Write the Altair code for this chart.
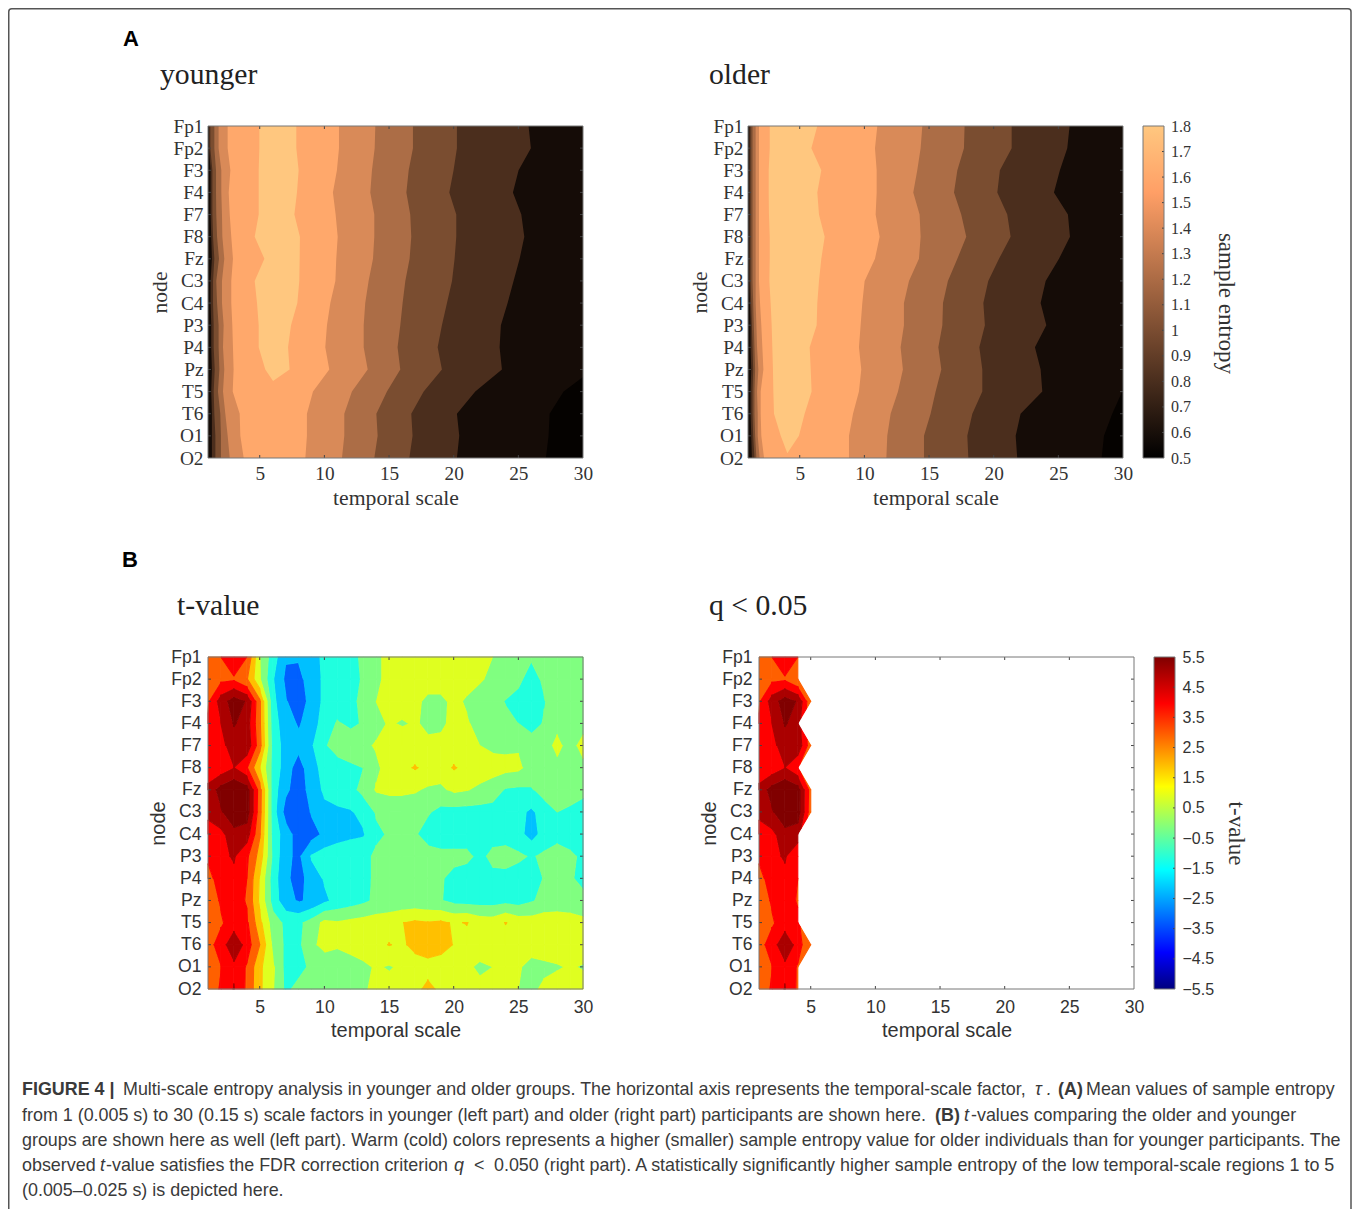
import altair as alt
import pandas as pd
import numpy as np

NODES = ["Fp1","Fp2","F3","F4","F7","F8","Fz","C3","C4","P3","P4","Pz","T5","T6","O1","O2"]
ROWS = list(range(1, 17))
X_TICKS = [5, 10, 15, 20, 25, 30]

# ---- Panel A: x position of each sample-entropy contour per node ----
Y_R18 = [7.83,7.83,8.01,7.88,7.68,8.11,8.09,8.06,7.91,7.42,7.19,7.31,6.03]
Y_L18 = [4.97,4.97,4.92,4.92,4.92,4.61,5.36,4.61,4.79,4.92,4.92,5.43,6.03]
Y_R16 = [11.13,11.13,10.97,10.66,10.87,11.03,10.92,10.85,10.46,10.20,10.07,10.38,9.12,8.65,8.65,8.53]
Y_L16 = [2.52,2.52,2.73,2.60,2.68,2.80,2.93,2.80,2.80,2.88,2.93,2.98,2.91,3.45,3.50,3.76]
Y_R14 = [13.94,13.89,13.68,13.55,13.86,13.86,13.76,13.42,13.16,13.04,13.04,13.35,12.13,11.54,11.54,11.36]
Y_L14 = [1.82,1.82,2.03,2.03,2.08,2.11,2.26,2.08,2.08,2.21,2.16,2.26,2.16,2.34,2.52,2.68]
Y_R12 = [16.85,16.85,16.52,16.34,16.64,16.72,16.59,16.26,16.05,15.87,15.66,15.87,14.84,14.02,14.12,13.86]
Y_L12 = [1.49,1.49,1.62,1.62,1.64,1.70,1.85,1.64,1.70,1.82,1.82,1.88,1.77,1.95,2.0,2.0]
Y_R10 = [20.25,20.25,19.99,19.66,20.2,20.2,20.07,19.87,19.48,19.09,18.76,19.09,17.68,16.72,16.82,16.57]
Y_L10 = [1.18,1.18,1.34,1.34,1.34,1.39,1.49,1.39,1.39,1.44,1.44,1.52,1.44,1.49,1.57,1.57]
Y_R08 = [25.79,25.97,25.02,24.58,25.23,25.46,25.10,24.63,24.17,23.65,23.55,23.73,21.67,20.25,20.43,20.25]
Y_L08 = [1.08,1.08,1.2,1.2,1.2,1.25,1.3,1.2,1.2,1.25,1.25,1.3,1.25,1.3,1.3,1.3]
Y_L05 = [30,28.5,27.42,27.34,27.13]
Y_ROWS05 = [12.34,13,14,15,16]

O_R18 = [6.36,5.90,6.67,6.36,6.49,6.93,6.67,6.49,6.36,6.31,5.77,5.85,5.92,5.38,4.94,4.04]
O_L18 = [2.68,2.68,2.60,2.60,2.62,2.68,2.68,2.65,2.75,2.83,2.88,2.93,2.96,3.01,3.53,4.04]
O_ROWS18 = [1,2,3,4,5,6,7,8,9,10,11,12,13,14,15,15.78]
O_R16 = [11.0,10.82,10.95,10.95,10.87,11.18,10.82,10.02,9.84,9.71,9.58,9.76,9.58,9.12,8.81,8.81]
O_L16 = [1.85,1.85,1.85,1.85,1.85,1.85,1.85,1.85,1.93,2.03,2.11,2.19,1.98,1.98,2.03,2.24]
O_R14 = [14.48,14.35,14.09,13.78,14.27,14.35,14.22,13.45,13.06,13.06,12.80,12.98,12.60,12.03,11.77,11.70]
O_L14 = [1.59,1.59,1.59,1.59,1.59,1.59,1.59,1.59,1.59,1.65,1.7,1.8,1.7,1.75,1.75,1.9]
O_R12 = [17.75,17.70,17.19,16.93,17.49,17.88,17.19,16.46,16.08,16.03,15.72,15.95,15.51,15.12,14.61,14.61]
O_L12 = [1.35,1.35,1.35,1.35,1.35,1.35,1.35,1.35,1.4,1.45,1.5,1.55,1.5,1.5,1.55,1.65]
O_R10 = [21.39,21.39,20.48,20.28,21.05,21.31,20.41,19.58,19.2,19.32,18.89,19.12,19.12,18.35,17.96,18.04]
O_L10 = [1.2,1.2,1.2,1.2,1.2,1.2,1.2,1.2,1.25,1.3,1.35,1.4,1.35,1.35,1.4,1.5]
O_R08 = [25.87,25.69,25.12,24.66,25.74,25.9,25.05,24.02,23.63,24.07,23.19,23.63,23.76,22.08,21.7,21.82]
O_L08 = [1.1,1.1,1.1,1.1,1.1,1.1,1.1,1.1,1.15,1.2,1.2,1.25,1.2,1.2,1.25,1.3]
O_L05 = [30,29.94,29.17,28.53,28.35]
O_ROWS05 = [12.54,13,14,15,16]

A_LEVELS = ["0.5","0.6","0.8","1.0","1.2","1.4","1.6","1.8"]
A_COLORS = ["#050200","#150C07","#4B2E1D","#7A4D30","#AC6D46","#D98A58","#FFA86B","#FFC77F"]

# ---- Panel B: t-value per node (row) and temporal scale 1..30 (column) ----
T_GRID = [
 [3.0,3.5,4.1,3.5,0.5,-1.0,-2.4,-2.4,-2.0,-1.2,-1.0,-0.8,-0.3,0.3,0.8,0.9,0.9,0.9,0.9,0.9,0.9,0.8,0.5,0.2,0.0,-0.4,0.0,0.1,0.1,0.1],
 [3.0,3.3,3.4,2.6,0.6,-1.4,-2.7,-2.8,-2.0,-1.3,-1.0,-0.8,-0.4,0.3,0.8,1.0,0.9,0.9,0.9,0.9,0.8,0.6,0.3,0.1,-0.3,-0.9,-0.3,0.1,0.1,0.1],
 [3.4,5.0,6.0,5.4,2.7,-1.2,-2.4,-3.2,-2.0,-1.3,-1.0,-0.7,-0.3,0.5,0.8,0.9,0.7,0.3,0.3,0.7,0.4,0.1,-0.2,-0.55,-0.8,-0.6,-0.55,0.0,0.1,0.1],
 [3.6,4.5,5.6,5.0,2.7,-1.0,-2.1,-2.6,-2.0,-1.0,-0.4,-0.7,-0.4,0.2,0.6,0.4,0.6,0.3,0.3,0.8,0.6,0.2,0.0,-0.2,-0.5,-0.9,-0.4,0.3,0.2,0.2],
 [3.6,4.2,5.0,5.2,2.9,-0.9,-1.9,-2.2,-1.6,-0.6,-0.1,0.1,0.3,0.6,1.0,1.1,0.9,0.7,0.8,1.0,0.9,0.5,0.3,0.3,0.4,0.0,0.2,0.7,0.2,0.8],
 [3.6,3.9,4.5,3.6,1.5,-0.8,-2.0,-3.0,-1.8,-1.2,-0.9,-0.7,-0.5,0.3,0.9,1.2,1.6,1.2,1.0,1.6,1.2,1.0,0.9,0.8,0.7,0.1,0.2,0.3,0.2,0.3],
 [4.9,5.9,6.4,6.0,3.0,-1.0,-2.3,-3.0,-2.1,-1.3,-1.0,-0.8,-0.2,0.6,0.7,0.7,0.6,0.35,0.3,0.7,0.55,0.3,0.0,-0.6,-0.7,-0.6,-0.1,0.0,0.0,-0.2],
 [5.0,5.4,6.2,6.0,2.9,-1.0,-2.9,-3.2,-2.4,-1.8,-1.7,-1.6,-1.2,-0.4,-0.1,-0.1,-0.1,-0.4,-0.8,-0.9,-0.9,-0.9,-0.9,-1.0,-1.2,-1.7,-1.0,-0.5,-0.7,-1.0],
 [3.6,4.2,5.2,5.0,2.6,-0.9,-2.0,-3.0,-2.9,-2.3,-1.9,-1.7,-1.6,-0.7,-0.4,-0.2,-0.4,-0.9,-1.1,-1.1,-0.9,-0.8,-0.8,-1.0,-1.2,-1.9,-1.1,-0.8,-1.0,-1.1],
 [3.6,4.3,4.6,3.7,2.1,-0.7,-2.3,-2.7,-1.4,-1.0,-0.9,-0.9,-0.8,-0.3,0.0,0.1,0.0,-0.1,-0.2,-0.2,-0.3,-0.7,-0.3,0.0,-0.3,-0.6,-0.3,-0.1,-0.3,-0.7],
 [3.3,3.8,4.3,3.5,1.4,-1.0,-2.3,-2.9,-2.0,-1.4,-1.2,-1.0,-0.8,-0.3,-0.1,-0.1,-0.2,-0.3,-0.4,-0.8,-0.9,-0.55,-0.7,-0.9,-1.0,-1.1,-0.4,-0.3,-0.3,-1.0],
 [3.1,3.6,4.0,3.4,1.3,-0.9,-2.2,-2.6,-2.3,-1.7,-1.2,-1.0,-0.7,-0.3,-0.2,-0.2,-0.2,-0.3,-0.45,-0.8,-0.9,-0.9,-0.9,-0.8,-0.9,-0.6,-0.2,-0.1,0.0,0.0],
 [2.9,3.4,3.9,3.7,1.8,0.0,-0.7,-0.7,-0.1,0.8,0.6,0.8,0.9,1.0,1.1,1.48,1.7,1.6,1.7,1.4,1.55,1.1,1.0,1.55,1.1,1.0,1.1,1.1,0.9,0.7],
 [3.2,3.9,5.5,4.0,2.5,0.3,-0.7,-0.7,0.3,0.8,0.6,0.8,1.0,1.2,1.55,1.3,1.9,2.1,1.9,1.45,1.2,1.1,0.9,1.1,1.1,0.9,1.0,1.1,1.0,1.2],
 [3.1,3.5,4.2,3.4,1.7,0.7,-0.8,-0.8,-0.3,-0.1,0.0,0.1,0.3,0.6,0.4,0.7,0.9,1.1,1.0,0.9,0.7,0.3,0.5,0.8,0.6,0.2,0.3,0.4,0.6,0.4],
 [3.1,3.6,4.6,3.3,1.7,0.6,-0.7,-0.2,0.1,0.4,0.3,0.3,0.4,0.7,0.9,1.0,1.2,1.8,1.3,1.0,0.9,0.8,0.8,0.8,0.5,0.3,0.7,1.0,1.1,1.0],
]
# Furthest significant temporal scale per node in the q < 0.05 panel
Q_LAST_COL = [4,4,5,4,5,4,5,5,4,4,4,4,4,5,4,4]

T_BOUNDS = [-99,-3.5,-2.5,-1.5,-0.5,0.5,1.5,2.5,3.5,4.5,5.5,99]
T_COLORS = ["#0000FF","#0060FF","#00C0FF","#20FFDF","#80FF80","#DFFF20","#FFC000","#FF6000","#FF0000","#AA0000","#800000"]
T_NAMES = [f"b{i:02d}" for i in range(len(T_COLORS))]

JET_STOPS = [(0,"#00007F"),(0.11,"#0000FF"),(0.36,"#00FFFF"),(0.61,"#FFFF00"),(0.86,"#FF0000"),(1,"#7F0000")]
COPPER_STOPS = [(0,"#000000"),(0.8,"#FF9F66"),(1,"#FFC77F")]
A_CB_TICKS = [0.5,0.6,0.7,0.8,0.9,1.0,1.1,1.2,1.3,1.4,1.5,1.6,1.7,1.8]
B_CB_TICKS = [-5.5,-4.5,-3.5,-2.5,-1.5,-0.5,0.5,1.5,2.5,3.5,4.5,5.5]

SERIF = "Liberation Serif"
SANS = "Liberation Sans"
W, H = 375, 332
LABELS_EXPR = "[" + ",".join(f"'{n}'" for n in NODES) + "][datum.value-1]"
INK = "#333333"
EDGE = "#777777"

# ---- contour polygons, one quad of the grid at a time ----
def clip(poly, level, keep_above):
    out = []
    for k in range(len(poly)):
        a, b = poly[k], poly[(k + 1) % len(poly)]
        ina = a[2] >= level if keep_above else a[2] <= level
        inb = b[2] >= level if keep_above else b[2] <= level
        if ina:
            out.append(a)
        if ina != inb:
            f = (level - a[2]) / (b[2] - a[2])
            out.append((a[0] + f * (b[0] - a[0]), a[1] + f * (b[1] - a[1]), level))
    return out

def contour_rows(grid, last_col=None):
    recs, pid = [], 0
    for i, name in enumerate(T_NAMES):          # low bands first, so higher ones paint on top
        for r in range(15):
            for c in range(29):
                corners = [(c + 1, r + 1), (c + 2, r + 1), (c + 2, r + 2), (c + 1, r + 2)]
                if last_col is not None:
                    corners = [p for p in corners if p[0] <= last_col[p[1] - 1]]
                    if len(corners) < 3:
                        continue
                quad = [(x, y, grid[y - 1][x - 1]) for x, y in corners]
                p = clip(quad, T_BOUNDS[i], True)
                if p:
                    p = clip(p, T_BOUNDS[i + 1], False)
                if len(p) >= 3:
                    for j, v in enumerate(p):
                        recs.append({"x": round(v[0], 3), "y": round(v[1], 3), "i": j, "poly": pid, "band": name})
                    pid += 1
    return pd.DataFrame(recs)

X_SCALE = alt.Scale(domain=[1, 30], nice=False, zero=False)
Y_SCALE = alt.Scale(domain=[1, 16], nice=False, zero=False, reverse=True)
PX = alt.X("x:Q", scale=X_SCALE)
PY = alt.Y("y:Q", scale=Y_SCALE)

def text_layer(text, x, y, font, size, weight="normal", angle=0, color="#222222"):
    return alt.Chart(alt.Data(values=[{"v": 1}])).mark_text(
        text=text, font=font, fontSize=size, fontWeight=weight, align="left",
        baseline="alphabetic", color=color, angle=angle, clip=False
    ).encode(x=alt.value(x), y=alt.value(y))

def frame_layers(w, h, xt=None, yt=None):
    layers = []
    if xt is not None:
        d = pd.DataFrame({"x": xt})
        layers.append(alt.Chart(d).mark_rule(color="#444444", strokeWidth=1).encode(x=PX, y=alt.value(h), y2=alt.value(h - 3)))
        layers.append(alt.Chart(d).mark_rule(color="#444444", strokeWidth=1).encode(x=PX, y=alt.value(0), y2=alt.value(3)))
    if yt is not None:
        d = pd.DataFrame({"y": yt})
        layers.append(alt.Chart(d).mark_rule(color="#444444", strokeWidth=1).encode(y=PY, x=alt.value(0), x2=alt.value(3)))
        layers.append(alt.Chart(d).mark_rule(color="#444444", strokeWidth=1).encode(y=PY, x=alt.value(w), x2=alt.value(w - 3)))
    layers.append(alt.Chart(alt.Data(values=[{"v": 1}])).mark_rect(fill=None, stroke=EDGE, strokeWidth=1).encode(
        x=alt.value(0), x2=alt.value(w), y=alt.value(0), y2=alt.value(h)))
    return layers

def axis_base(font, lsize, tsize, ttl_pad_x, ttl_pad_y, lab_pad_x, lab_pad_y):
    d = pd.DataFrame({"x": [1, 30], "y": [1, 16]})
    xax = alt.Axis(values=X_TICKS, tickCount=len(X_TICKS), title="temporal scale", grid=False, domain=False, ticks=False,
                   labelFont=font, labelFontSize=lsize, labelColor=INK, labelPadding=lab_pad_x, labelAngle=0,
                   titleFont=font, titleFontSize=tsize, titleFontWeight="normal", titleColor=INK, titlePadding=ttl_pad_x)
    yax = alt.Axis(values=ROWS, tickCount=len(ROWS), labelExpr=LABELS_EXPR, title="node", grid=False, domain=False, ticks=False,
                   labelFont=font, labelFontSize=lsize, labelColor=INK, labelPadding=lab_pad_y,
                   titleFont=font, titleFontSize=tsize, titleFontWeight="normal", titleColor=INK, titlePadding=ttl_pad_y)
    return alt.Chart(d).mark_point(opacity=0).encode(
        x=alt.X("x:Q", scale=X_SCALE, axis=xax), y=alt.Y("y:Q", scale=Y_SCALE, axis=yax))

def band_area(level, left, right, rows):
    d = pd.DataFrame({"x": left, "x2": right, "y": rows, "band": [level] * len(rows)})
    return alt.Chart(d).mark_area(orient="horizontal", interpolate="linear").encode(
        x=PX, x2="x2:Q", y=PY,
        color=alt.Color("band:N", scale=alt.Scale(domain=A_LEVELS, range=A_COLORS), legend=None))

def a_panel(bands, title, tx):
    layers = [axis_base(SERIF, 19.3, 21.7, 4, 1, 6, 5)]
    layers += [band_area(*b) for b in bands]
    layers += frame_layers(W, H, X_TICKS[:-1], ROWS[1:-1])
    layers += [text_layer(title, tx, -42, SERIF, 29.7)]
    return layers

F = [1] * 16
T30 = [30] * 16
young_bands = [
    ("0.6", F, T30, ROWS),
    ("0.5", Y_L05, [30] * 5, Y_ROWS05),
    ("0.8", Y_L08, Y_R08, ROWS),
    ("1.0", Y_L10, Y_R10, ROWS),
    ("1.2", Y_L12, Y_R12, ROWS),
    ("1.4", Y_L14, Y_R14, ROWS),
    ("1.6", Y_L16, Y_R16, ROWS),
    ("1.8", Y_L18, Y_R18, [1,2,3,4,5,6,7,8,9,10,11,12,12.52]),
]
old_bands = [
    ("0.6", F, T30, ROWS),
    ("0.5", O_L05, [30] * 5, O_ROWS05),
    ("0.8", O_L08, O_R08, ROWS),
    ("1.0", O_L10, O_R10, ROWS),
    ("1.2", O_L12, O_R12, ROWS),
    ("1.4", O_L14, O_R14, ROWS),
    ("1.6", O_L16, O_R16, ROWS),
    ("1.8", O_L18, O_R18, O_ROWS18),
]

young = alt.layer(*a_panel(young_bands, "younger", -48),
                  text_layer("A", -85, -80, SANS, 22, "bold", color="#000000")).properties(width=W, height=H)
older = alt.layer(*a_panel(old_bands, "older", -39)).properties(width=W, height=H)

def contour_layer(df):
    sc = alt.Scale(domain=T_NAMES, range=T_COLORS)
    return alt.Chart(df).mark_line(strokeWidth=1.1, strokeJoin="round", interpolate="linear").encode(
        x=PX, y=PY, detail="poly:N", order="i:Q",
        stroke=alt.Stroke("band:N", scale=sc, legend=None),
        fill=alt.Fill("band:N", scale=sc, legend=None))

t_df = contour_rows(T_GRID)
q_df = contour_rows(T_GRID, Q_LAST_COL)

def b_panel(df, title, tx, extra=()):
    return alt.layer(axis_base(SANS, 17.6, 20, 5, 2, 9, 7), contour_layer(df),
                     *frame_layers(W, H, X_TICKS[:-1], ROWS[1:-1]),
                     text_layer(title, tx, -42, SERIF, 29.7), *extra).properties(width=W, height=H)

tval = b_panel(t_df, "t-value", -31, [text_layer("B", -86, -90, SANS, 22, "bold", color="#000000")])
qval = b_panel(q_df, "q < 0.05", -50)

def colorbar(domain, stops, ticks, fmt, title, font, lsize, tsize, tpad, lpad, ty, h=H, w=21):
    lo, hi = domain
    ys = alt.Scale(domain=[lo, hi], nice=False, zero=False)
    ax = alt.Axis(values=ticks, tickCount=len(ticks), format=fmt, orient="right", title=title, grid=False, domain=False, ticks=False,
                  labelFont=font, labelFontSize=lsize, labelColor=INK, labelPadding=lpad,
                  titleFont=SERIF, titleFontSize=tsize, titleFontWeight="normal", titleColor=INK,
                  titleAngle=90, titlePadding=tpad, titleY=ty)
    grad = alt.LinearGradient(gradient="linear", x1=0, x2=0, y1=1, y2=0,
                              stops=[alt.GradientStop(color=c, offset=o) for o, c in stops])
    bar = alt.Chart(pd.DataFrame({"a": [lo], "b": [hi]})).mark_rect(fill=grad).encode(
        x=alt.value(0), x2=alt.value(w), y=alt.Y("a:Q", scale=ys, axis=ax), y2="b:Q")
    tk = alt.Chart(pd.DataFrame({"a": ticks[1:-1]})).mark_rule(color="#444444", strokeWidth=1).encode(
        y=alt.Y("a:Q", scale=ys), x=alt.value(w), x2=alt.value(w - 2))
    fr = alt.Chart(alt.Data(values=[{"v": 1}])).mark_rect(fill=None, stroke=EDGE, strokeWidth=1).encode(
        x=alt.value(0), x2=alt.value(w), y=alt.value(0), y2=alt.value(h))
    return alt.layer(bar, tk, fr).properties(width=w, height=h)

cb_a = colorbar((0.5, 1.8), COPPER_STOPS, A_CB_TICKS, ".1~f", "sample entropy", SERIF, 16, 23, 23, 6.5, 177)
cb_b = colorbar((-5.5, 5.5), JET_STOPS, B_CB_TICKS, ".1f", "t-value", SANS, 16, 23, 10, 7, 176)

# ---- caption and outer frame; page coordinates relative to this panel's corner ----
OX, OY = 208, 1188
REGULAR = [
    ("Multi-scale entropy analysis in younger and older groups. The horizontal axis represents the temporal-scale factor,", 123, 1095),
    ("Mean values of sample entropy", 1086, 1095),
    ("from 1 (0.005 s) to 30 (0.15 s) scale factors in younger (left part) and older (right part) participants are shown here.", 22, 1121),
    ("-values comparing the older and younger", 971, 1121),
    ("groups are shown here as well (left part). Warm (cold) colors represents a higher (smaller) sample entropy value for older individuals than for younger participants. The", 22, 1146),
    ("observed", 22, 1171),
    ("-value satisfies the FDR correction criterion", 106, 1171),
    ("<", 474, 1171),
    ("0.050 (right part). A statistically significantly higher sample entropy of the low temporal-scale regions 1 to 5", 494, 1171),
    ("(0.005–0.025 s) is depicted here.", 22, 1196),
]
BOLD = [("FIGURE 4 |", 22, 1095), ("(A)", 1058, 1095), ("(B)", 935, 1121)]
ITALIC = [("t", 964, 1121), ("t", 100, 1171), ("q", 454, 1171), ("τ .", 1035, 1095)]

def cap_layer(items, **kw):
    d = pd.DataFrame({"t": [i[0] for i in items], "x": [i[1] - OX for i in items], "y": [i[2] - OY for i in items]})
    return alt.Chart(d).mark_text(font=SANS, fontSize=17.9, align="left", baseline="alphabetic", color="#3a3a3a", clip=False, **kw).encode(
        x=alt.X("x:Q", scale=None, axis=None), y=alt.Y("y:Q", scale=None, axis=None), text="t:N")

outer = alt.Chart(alt.Data(values=[{"v": 1}])).mark_rect(fill=None, stroke="#555555", strokeWidth=1.5, cornerRadius=3).encode(
    x=alt.value(8.75 - OX), x2=alt.value(1351 - OX), y=alt.value(8.75 - OY), y2=alt.value(1225 - OY))
caption = alt.layer(cap_layer(REGULAR), cap_layer(BOLD, fontWeight="bold"), cap_layer(ITALIC, fontStyle="italic"), outer).properties(width=1, height=1)

def spacer(w):
    return alt.Chart(alt.Data(values=[{"v": 1}])).mark_point(opacity=0).encode(x=alt.value(0), y=alt.value(0)).properties(width=w, height=1)

row_a = alt.hconcat(young, spacer(165), older, spacer(20), cb_a, spacing=0, bounds="flush")
row_b = alt.hconcat(tval, spacer(176), qval, spacer(20), cb_b, spacing=0, bounds="flush")
chart = (alt.vconcat(row_a, row_b, caption, spacing=531, bounds="flush")
         .properties(padding=0, background="white")
         .configure_view(stroke=None)
         .configure_axis(labelOverlap=False, labelFlush=False, labelBound=False))
chart.save("out.html", embed_options={"renderer": "svg", "actions": False})
